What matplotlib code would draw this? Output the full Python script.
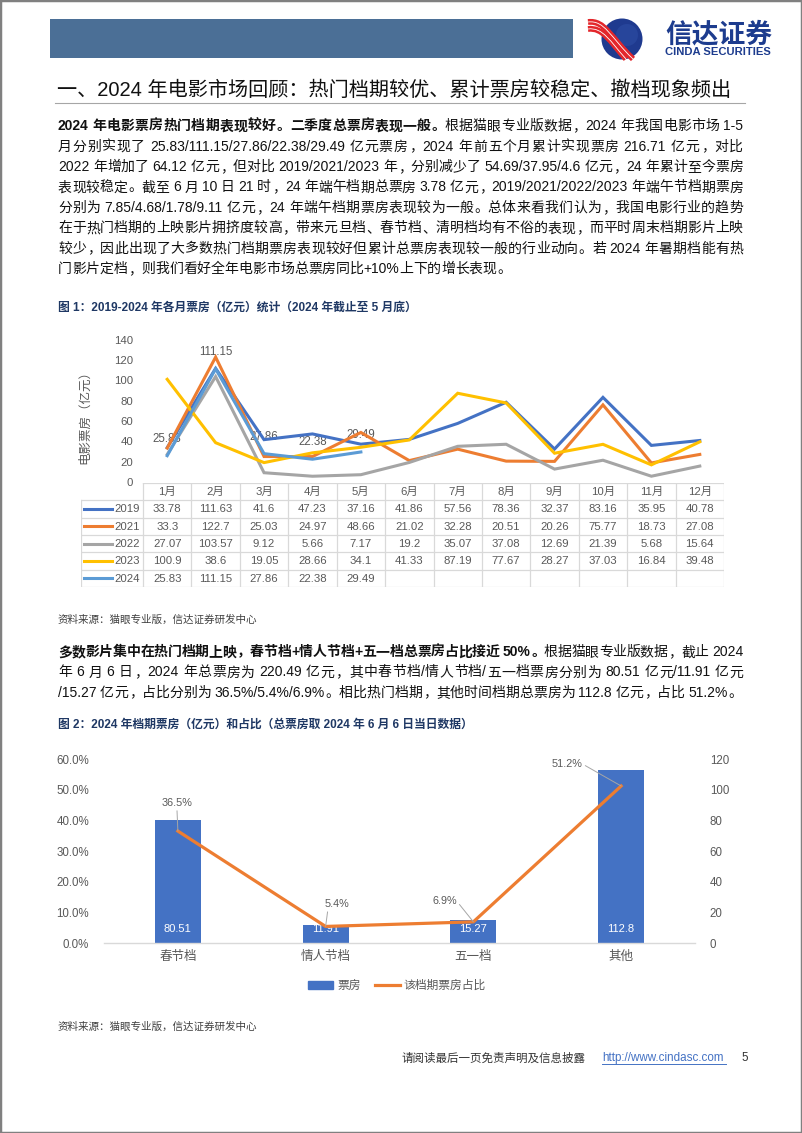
import matplotlib
matplotlib.use('Agg')
import matplotlib.pyplot as plt
from matplotlib.patches import Rectangle, Circle, PathPatch, Patch
from matplotlib.path import Path
from matplotlib.lines import Line2D
from matplotlib.font_manager import FontProperties

# ---------------- data ----------------
months = ['1月', '2月', '3月', '4月', '5月', '6月', '7月', '8月', '9月', '10月', '11月', '12月']
years = ['2019', '2021', '2022', '2023', '2024']
box_2019 = [33.78, 111.63, 41.6, 47.23, 37.16, 41.86, 57.56, 78.36, 32.37, 83.16, 35.95, 40.78]
box_2021 = [33.3, 122.7, 25.03, 24.97, 48.66, 21.02, 32.28, 20.51, 20.26, 75.77, 18.73, 27.08]
box_2022 = [27.07, 103.57, 9.12, 5.66, 7.17, 19.2, 35.07, 37.08, 12.69, 21.39, 5.68, 15.64]
box_2023 = [100.9, 38.6, 19.05, 28.66, 34.1, 41.33, 87.19, 77.67, 28.27, 37.03, 16.84, 39.48]
box_2024 = [25.83, 111.15, 27.86, 22.38, 29.49]
y_ticks_1 = [0, 20, 40, 60, 80, 100, 120, 140]

slots = ['春节档', '情人节档', '五一档', '其他']
slot_box = [80.51, 11.91, 15.27, 112.8]
slot_share = [0.365, 0.054, 0.069, 0.512]
y_ticks_share = [0.0, 0.1, 0.2, 0.3, 0.4, 0.5, 0.6]
y_ticks_box = [0, 20, 40, 60, 80, 100, 120]

# ---------------- styles ----------------
series_colors = ['#4472C4', '#ED7D31', '#A5A5A5', '#FFC000', '#5B9BD5']
GRAY_TXT = '#595959'
NAVY = '#1F3864'

W, H = 802, 1133
PT = 100 / 72.0
plt.rcParams['font.family'] = ['Liberation Sans', 'Noto Sans CJK SC', 'DejaVu Sans']
CJK_FAM = ['Noto Sans CJK SC', 'DejaVu Sans']
LAT_FAM = ['Liberation Sans', 'Noto Sans CJK SC']

fig = plt.figure(figsize=(W / 100, H / 100), dpi=100)
fig.patch.set_facecolor('white')
renderer = fig.canvas.get_renderer()


def fx(x):
    return x / W


def fy(y):
    return 1 - y / H


def ctext(x, yc, s, size, ha='left', **kw):
    base = yc + 0.38 * size * PT
    return fig.text(fx(x), fy(base), s, fontsize=size, ha=ha, va='baseline', **kw)


def adv_width(s, fp):
    w1, _, _ = renderer.get_text_width_height_descent('|' + s + '|', fp, ismath=False)
    w0, _, _ = renderer.get_text_width_height_descent('||', fp, ismath=False)
    return w1 - w0


def tokens_of(segments):
    toks = []
    for s, wt in segments:
        buf = ''
        for ch in s:
            if ch == ' ':
                if buf:
                    toks.append((buf, wt, 'lat'))
                    buf = ''
                toks.append((' ', wt, 'sp'))
            elif ord(ch) < 128:
                buf += ch
            else:
                if buf:
                    toks.append((buf, wt, 'lat'))
                    buf = ''
                toks.append((ch, wt, 'cjk'))
        if buf:
            toks.append((buf, wt, 'lat'))
    return toks


LEFT_PUNCT = '，。、：；！？）'
RIGHT_PUNCT = '（'


def draw_line(segments, x0, x1, yc, size, justify=True, color='#111111'):
    em = size * PT
    toks = tokens_of(segments)
    widths = []
    for t, wt, kind in toks:
        if kind == 'cjk':
            widths.append(em)
        elif kind == 'sp':
            widths.append(0.25 * em)
        else:
            widths.append(adv_width(t, FontProperties(family=LAT_FAM, weight=wt, size=size)))
    n = len(toks)
    gap = (x1 - x0 - sum(widths)) / (n - 1) if (justify and n > 1) else 0.0
    base = yc + 0.38 * em
    x = x0
    for (t, wt, kind), w in zip(toks, widths):
        if kind == 'cjk':
            if t in LEFT_PUNCT:
                fig.text(fx(x + 0.06 * em), fy(base), t, ha='left', va='baseline', fontsize=size,
                         fontweight=wt, family=CJK_FAM, color=color)
            elif t in RIGHT_PUNCT:
                fig.text(fx(x + 0.94 * em), fy(base), t, ha='right', va='baseline', fontsize=size,
                         fontweight=wt, family=CJK_FAM, color=color)
            else:
                fig.text(fx(x + w / 2), fy(base), t, ha='center', va='baseline', fontsize=size,
                         fontweight=wt, family=CJK_FAM, color=color)
        elif kind == 'lat':
            fig.text(fx(x + w / 2), fy(base), t, ha='center', va='baseline', fontsize=size,
                     fontweight=wt, family=LAT_FAM, color=color)
        x += w + gap


# ---------------- page frame & header ----------------
fig.patches.append(Rectangle((0, 0), 1, 1, transform=fig.transFigure, fill=False,
                             ec='#808080', lw=2.5))
fig.patches.append(Rectangle((fx(50), fy(57.5)), (573 - 50) / W, 38 / H, transform=fig.transFigure,
                             fc='#4b6f96', ec='none'))

ax_logo = fig.add_axes([fx(584), fy(62), 66 / W, 46 / H])
ax_logo.set_xlim(584, 650)
ax_logo.set_ylim(62, 16)
ax_logo.axis('off')
ax_logo.add_patch(Circle((622, 39), 20.5, fc='#1f3a8f', ec='none'))
ax_logo.add_patch(Circle((627, 35), 11, fc='#2f50a8', ec='none', alpha=0.5))
for off in (0, 7):
    p = Path([(588, 22 + off), (605 - off * 0.3, 20 + off), (610, 37 + off * 0.6), (633 - off, 59)],
             [Path.MOVETO, Path.CURVE4, Path.CURVE4, Path.CURVE4])
    ax_logo.add_patch(PathPatch(p, fc='none', ec='#e3262b', lw=4.2, capstyle='butt'))
    ax_logo.add_patch(PathPatch(p, fc='none', ec='white', lw=0.6))
ctext(665, 32, '信达证券', 19.3, fontweight='bold', family=CJK_FAM, color='#1d3c8e')
ctext(665, 51, 'CINDA SECURITIES', 8.1, fontweight='bold', family=LAT_FAM, color='#1d3c8e')

ctext(57, 88, '一、2024 年电影市场回顾：热门档期较优、累计票房较稳定、撤档现象频出', 14.5,
      color='#111111')
fig.add_artist(Line2D([fx(55), fx(745)], [fy(102.5), fy(102.5)], color='#A6A6A6', lw=0.8))

# ---------------- paragraph 1 ----------------
para1 = [
    [("2024 年电影票房热门档期表现较好。二季度总票房表现一般。", 'bold'),
     ("根据猫眼专业版数据，2024 年我国电影市场 1-5", 'normal')],
    [("月分别实现了 25.83/111.15/27.86/22.38/29.49 亿元票房，2024 年前五个月累计实现票房 216.71 亿元，对比", 'normal')],
    [("2022 年增加了 64.12 亿元，但对比 2019/2021/2023 年，分别减少了 54.69/37.95/4.6 亿元，24 年累计至今票房", 'normal')],
    [("表现较稳定。截至 6 月 10 日 21 时，24 年端午档期总票房 3.78 亿元，2019/2021/2022/2023 年端午节档期票房", 'normal')],
    [("分别为 7.85/4.68/1.78/9.11 亿元，24 年端午档期票房表现较为一般。总体来看我们认为，我国电影行业的趋势", 'normal')],
    [("在于热门档期的上映影片拥挤度较高，带来元旦档、春节档、清明档均有不俗的表现，而平时周末档期影片上映", 'normal')],
    [("较少，因此出现了大多数热门档期票房表现较好但累计总票房表现较一般的行业动向。若 2024 年暑期档能有热", 'normal')],
    [("门影片定档，则我们看好全年电影市场总票房同比+10%上下的增长表现。", 'normal')],
]
for i, segs in enumerate(para1):
    draw_line(segs, 58, 743, 125 + 20.4 * i, 10, justify=(i < len(para1) - 1))

ctext(58, 306, '图 1：2019-2024 年各月票房（亿元）统计（2024 年截止至 5 月底）', 8.5,
      fontweight='bold', color=NAVY)

# ---------------- chart 1 ----------------
ax1 = fig.add_axes([fx(143), fy(482), (724 - 143) / W, (482 - 339.5) / H])
ax1.set_xlim(-0.5, 11.5)
ax1.set_ylim(0, 140)
series = [box_2019, box_2021, box_2022, box_2023, box_2024]
for vals, c in zip(series, series_colors):
    ax1.plot(range(len(vals)), vals, color=c, lw=2.2, solid_joinstyle='miter', zorder=2)
for i, v in enumerate(box_2024):
    ax1.annotate(str(v), xy=(i, v), xytext=(0, 12.3), textcoords='offset points', ha='center',
                 va='center', fontsize=8.3, color=GRAY_TXT, zorder=1)
ax1.set_yticks(y_ticks_1)
ax1.set_yticklabels([str(t) for t in y_ticks_1])
ax1.set_xticks([])
ax1.tick_params(axis='y', length=0, pad=7.2, labelsize=8.2, labelcolor=GRAY_TXT)
for s in ax1.spines.values():
    s.set_visible(False)
ax1.patch.set_alpha(0)
fig.text(fx(85), fy(414), '电影票房（亿元）', rotation=90, ha='center', va='center', fontsize=9,
         color=GRAY_TXT, family=CJK_FAM)

# table
col_w = (724 - 143) / 12.0
xmin_T = -0.5 - (143 - 81) / col_w
axT = fig.add_axes([fx(81), fy(587), (724 - 81) / W, (587 - 483) / H])
axT.set_xlim(xmin_T, 11.5)
axT.set_ylim(6, 0)
axT.axis('off')
GRID = '#D9D9D9'
axT.plot([-0.5, 11.5], [0, 0], color=GRID, lw=0.9)
for r in range(1, 7):
    axT.plot([xmin_T, 11.5], [r, r], color=GRID, lw=0.9)
for k in range(13):
    axT.plot([-0.5 + k, -0.5 + k], [0, 6], color=GRID, lw=0.9)
axT.plot([xmin_T, xmin_T], [1, 6], color=GRID, lw=0.9)
for j, m in enumerate(months):
    axT.text(j, 0.52, m, ha='center', va='center', fontsize=8.2, color=GRAY_TXT)
for r, (yr, vals, c) in enumerate(zip(years, series, series_colors)):
    yc = r + 1.52
    axT.plot([xmin_T + 3 / col_w, xmin_T + 31 / col_w], [r + 1.5, r + 1.5], color=c, lw=2.2)
    axT.text(xmin_T + 58.5 / col_w, yc, yr, ha='right', va='center', fontsize=8.2, color=GRAY_TXT)
    for j, v in enumerate(vals):
        axT.text(j, yc, str(v), ha='center', va='center', fontsize=8.2, color=GRAY_TXT)

ctext(58, 619, '资料来源：猫眼专业版，信达证券研发中心', 7.6, color='#404040', family=CJK_FAM)

# ---------------- paragraph 2 ----------------
para2 = [
    [("多数影片集中在热门档期上映，春节档+情人节档+五一档总票房占比接近 50%。", 'bold'),
     ("根据猫眼专业版数据，截止 2024", 'normal')],
    [("年 6 月 6 日，2024 年总票房为 220.49 亿元，其中春节档/情人节档/五一档票房分别为 80.51 亿元/11.91 亿元", 'normal')],
    [("/15.27 亿元，占比分别为 36.5%/5.4%/6.9%。相比热门档期，其他时间档期总票房为 112.8 亿元，占比 51.2%。", 'normal')],
]
for i, segs in enumerate(para2):
    draw_line(segs, 58, 743, 651 + 20.2 * i, 10, justify=(i < len(para2) - 1))

ctext(58, 723, '图 2：2024 年档期票房（亿元）和占比（总票房取 2024 年 6 月 6 日当日数据）', 8.5,
      fontweight='bold', color=NAVY)

# ---------------- chart 2 ----------------
ax_bar = fig.add_axes([fx(104), fy(943), (695 - 104) / W, (943 - 759) / H])
ax_line = ax_bar.twinx()
ax_bar.set_zorder(1)
ax_line.set_zorder(2)
ax_line.patch.set_visible(False)

ax_bar.set_xlim(-0.5, 3.5)
ax_bar.set_ylim(0, 120)
x2 = list(range(len(slots)))
ax_bar.bar(x2, slot_box, width=0.311, color='#4472C4', zorder=2)
for i, v in enumerate(slot_box):
    ax_bar.annotate(str(v), xy=(i, 0), xytext=(0, 10.1), textcoords='offset points', ha='center',
                    va='center', fontsize=8, color='white', zorder=3)
ax_bar.set_yticks(y_ticks_box)
ax_bar.set_yticklabels([str(t) for t in y_ticks_box])
ax_bar.yaxis.tick_right()
ax_bar.yaxis.set_label_position('right')
ax_bar.set_xticks(x2)
ax_bar.set_xticklabels(slots)
ax_bar.tick_params(axis='y', which='both', left=False, right=False, labelleft=False,
                   labelright=True, pad=7.2, labelsize=8.3, labelcolor=GRAY_TXT)
ax_bar.tick_params(axis='x', length=0, pad=5.5, labelsize=9, labelcolor=GRAY_TXT)
for name, s in ax_bar.spines.items():
    s.set_visible(name == 'bottom')
ax_bar.spines['bottom'].set_color(GRID)
ax_bar.spines['bottom'].set_linewidth(1.0)

ax_line.set_ylim(0, 0.6)
ax_line.set_yticks(y_ticks_share)
ax_line.set_yticklabels([f'{t * 100:.1f}%' for t in y_ticks_share])
ax_line.yaxis.tick_left()
ax_line.yaxis.set_label_position('left')
ax_line.tick_params(axis='y', which='both', left=False, right=False, labelleft=True,
                    labelright=False, pad=7.2, labelsize=8.3, labelcolor=GRAY_TXT)
for s in ax_line.spines.values():
    s.set_visible(False)
ax_line.plot(x2, slot_share, color='#ED7D31', lw=2.3, zorder=3)
share_label_offsets = [(-0.7, 20.2), (7.9, 16.1), (-20.9, 15.0), (-38.9, 15.8)]
share_label_relpos = [(0.5, 0.0), (0.15, 0.0), (1.0, 0.5), (1.0, 0.5)]
for i, v in enumerate(slot_share):
    ax_line.annotate(f'{v * 100:.1f}%', xy=(i, v), xytext=share_label_offsets[i],
                     textcoords='offset points', ha='center', va='center', fontsize=7.8,
                     color=GRAY_TXT,
                     arrowprops=dict(arrowstyle='-', color='#A6A6A6', lw=0.7, shrinkA=0,
                                     shrinkB=0, relpos=share_label_relpos[i]))

fig.legend(handles=[Patch(color='#4472C4', label='票房'),
                    Line2D([], [], color='#ED7D31', lw=2.3, label='该档期票房占比')],
           loc='center', bbox_to_anchor=(fx(397), fy(986)), ncol=2, frameon=False,
           fontsize=8.5, labelcolor=GRAY_TXT, handlelength=2.1, handletextpad=0.35,
           columnspacing=1.2)

ctext(58, 1026, '资料来源：猫眼专业版，信达证券研发中心', 7.6, color='#404040', family=CJK_FAM)

# ---------------- footer ----------------
ctext(401, 1057, '请阅读最后一页免责声明及信息披露', 8.3, color='#333333', family=CJK_FAM)
ctext(602, 1057, 'http://www.cindasc.com', 8.4, color='#4472C4', family=LAT_FAM)
fig.add_artist(Line2D([fx(602), fx(726)], [fy(1064), fy(1064)], color='#4472C4', lw=0.7))
ctext(741, 1057, '5', 8.4, color='#333333', family=LAT_FAM)

fig.savefig('out.png', dpi=100, facecolor='white')
